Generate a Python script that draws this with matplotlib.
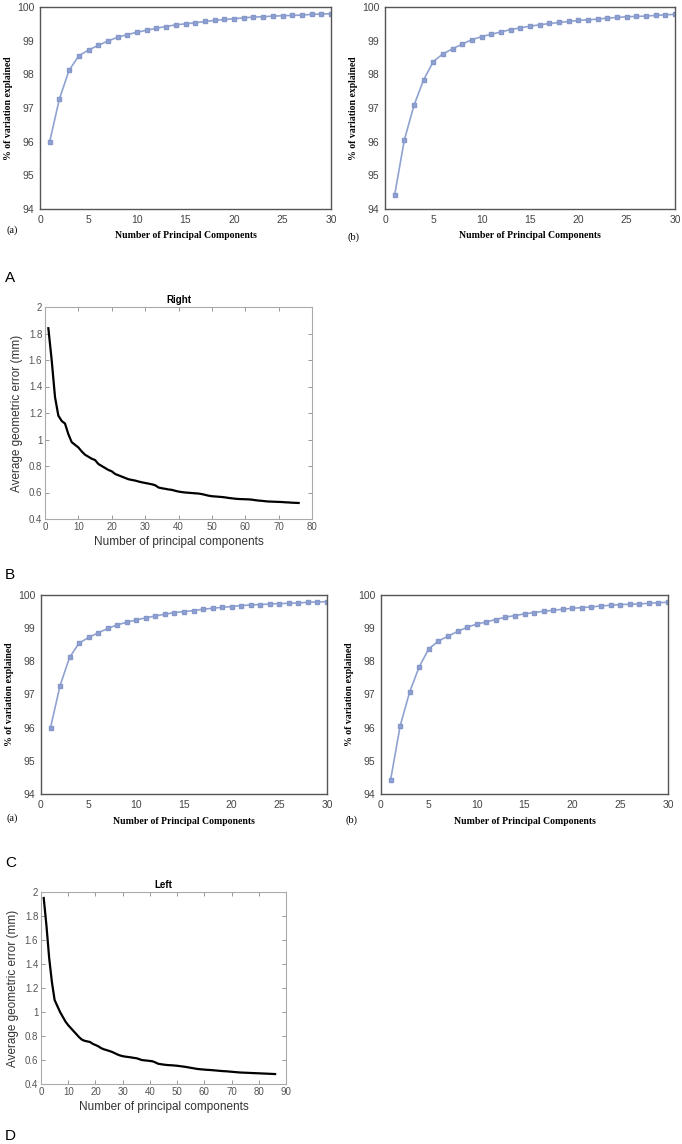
import matplotlib.pyplot as plt
import numpy as np

# explained variance, panel (a) and (b)
pcs = list(range(1, 31))
var_a = [96.00, 97.27, 98.12, 98.55, 98.72, 98.86, 98.99, 99.10, 99.18, 99.25,
         99.31, 99.37, 99.42, 99.47, 99.50, 99.53, 99.57, 99.60, 99.63, 99.65,
         99.68, 99.70, 99.71, 99.73, 99.74, 99.75, 99.76, 99.78, 99.79, 99.80]
var_b = [94.42, 96.05, 97.08, 97.84, 98.38, 98.61, 98.76, 98.90, 99.03, 99.12,
         99.19, 99.26, 99.33, 99.38, 99.43, 99.47, 99.51, 99.54, 99.57, 99.60,
         99.62, 99.64, 99.67, 99.69, 99.71, 99.72, 99.73, 99.75, 99.77, 99.78]

# average geometric error, right side (76 PCs)
err_right = [1.84, 1.60, 1.32, 1.18, 1.14, 1.12, 1.04, 0.98, 0.96, 0.94,
             0.91, 0.885, 0.87, 0.855, 0.845, 0.815, 0.80, 0.785, 0.77, 0.76,
             0.74, 0.73, 0.72, 0.71, 0.70, 0.695, 0.69, 0.683, 0.677, 0.672,
             0.667, 0.662, 0.655, 0.638, 0.632, 0.628, 0.623, 0.62, 0.613, 0.607,
             0.603, 0.60, 0.598, 0.596, 0.594, 0.592, 0.588, 0.582, 0.576, 0.572,
             0.570, 0.568, 0.566, 0.563, 0.559, 0.556, 0.553, 0.551, 0.550, 0.549,
             0.548, 0.546, 0.542, 0.539, 0.537, 0.534, 0.532, 0.531, 0.530, 0.529,
             0.528, 0.526, 0.525, 0.523, 0.522, 0.521]

# average geometric error, left side (86 PCs)
err_left = [1.95, 1.72, 1.45, 1.25, 1.10, 1.05, 1.00, 0.96, 0.92, 0.89,
            0.865, 0.84, 0.815, 0.79, 0.77, 0.76, 0.755, 0.75, 0.735, 0.725,
            0.715, 0.70, 0.69, 0.683, 0.676, 0.668, 0.658, 0.647, 0.638, 0.632,
            0.628, 0.625, 0.622, 0.618, 0.615, 0.608, 0.600, 0.597, 0.595, 0.592,
            0.589, 0.580, 0.569, 0.565, 0.562, 0.559, 0.557, 0.556, 0.554, 0.552,
            0.549, 0.546, 0.543, 0.539, 0.535, 0.531, 0.527, 0.524, 0.522, 0.520,
            0.518, 0.517, 0.515, 0.513, 0.511, 0.509, 0.507, 0.506, 0.504, 0.502,
            0.500, 0.498, 0.496, 0.495, 0.494, 0.493, 0.492, 0.491, 0.490, 0.489,
            0.488, 0.487, 0.486, 0.485, 0.484, 0.483]

W, H = 682, 1144
fig = plt.figure(figsize=(W / 100, H / 100), dpi=100)


def box(x0, y0, x1, y1):
    # pixel box -> figure fraction
    return [x0 / W, 1 - y1 / H, (x1 - x0) / W, (y1 - y0) / H]


def excel_plot(rect, y, tag, tag_xy):
    ax = fig.add_axes(rect)
    ax.plot(pcs, y, color='#8fa2d0', lw=1.2, marker='s', ms=3.5,
            mec='#8597cb', mfc='#8fa2d0')
    ax.set_xlim(0, 30)
    ax.set_ylim(94, 100)
    ax.set_xticks(range(0, 31, 5))
    ax.set_yticks(range(94, 101))
    for s in ax.spines.values():
        s.set_color('#555555')
        s.set_linewidth(1.0)
    ax.tick_params(length=0, labelsize=7.5, colors='#444444', pad=4)
    for t in ax.get_xticklabels() + ax.get_yticklabels():
        t.set_family('Liberation Sans')
    ax.set_xlabel('Number of Principal Components', family='Liberation Serif',
                  fontweight='bold', fontsize=7, labelpad=5)
    ax.set_ylabel('% of variation explained', family='Liberation Serif',
                  fontweight='bold', fontsize=7, labelpad=3)
    fig.text(tag_xy[0] / W, 1 - tag_xy[1] / H, tag, family='Liberation Serif',
             fontsize=7.5, va='center')
    return ax


def matlab_plot(rect, y, title, xmax):
    ax = fig.add_axes(rect)
    x = np.arange(1, len(y) + 1)
    ax.plot(x, y, color='black', lw=1.6)
    ax.set_xlim(0, xmax)
    ax.set_ylim(0.4, 2)
    ax.set_xticks(range(0, xmax + 1, 10))
    ax.set_yticks([0.4, 0.6, 0.8, 1, 1.2, 1.4, 1.6, 1.8, 2])
    ax.set_yticklabels(['0.4', '0.6', '0.8', '1', '1.2', '1.4', '1.6', '1.8', '2'])
    for s in ax.spines.values():
        s.set_color('#aaaaaa')
        s.set_linewidth(0.8)
    ax.tick_params(direction='in', length=3, width=0.6, color='#888888',
                   labelsize=7, labelcolor='#555555', top=True, right=True, pad=2)
    for t in ax.get_xticklabels() + ax.get_yticklabels():
        t.set_family('Liberation Sans')
    ax.set_title(title, fontsize=7, fontweight='bold', pad=3, family='Liberation Sans')
    ax.set_xlabel('Number of principal components', fontsize=8.5,
                  color='#333333', labelpad=3, family='Liberation Sans')
    ax.set_ylabel('Average geometric error (mm)', fontsize=8.5,
                  color='#333333', labelpad=4, family='Liberation Sans')
    return ax


excel_plot(box(40, 7, 331, 209), var_a, '(a)', (6, 230))
excel_plot(box(385, 7, 675, 209), var_b, '(b)', (348, 237))
matlab_plot(box(45, 307, 312, 519), err_right, 'Right', 80)
excel_plot(box(41, 595, 327, 794), var_a, '(a)', (6, 818))
excel_plot(box(381, 595, 668, 794), var_b, '(b)', (346, 820))
matlab_plot(box(41, 892, 286, 1084), err_left, 'Left', 90)

for letter, ypx in [('A', 278), ('B', 575), ('C', 863), ('D', 1136)]:
    fig.text(5 / W, 1 - ypx / H, letter, fontsize=11, va='center',
             family='Liberation Sans')

fig.savefig('out.png', dpi=100, facecolor='white')
